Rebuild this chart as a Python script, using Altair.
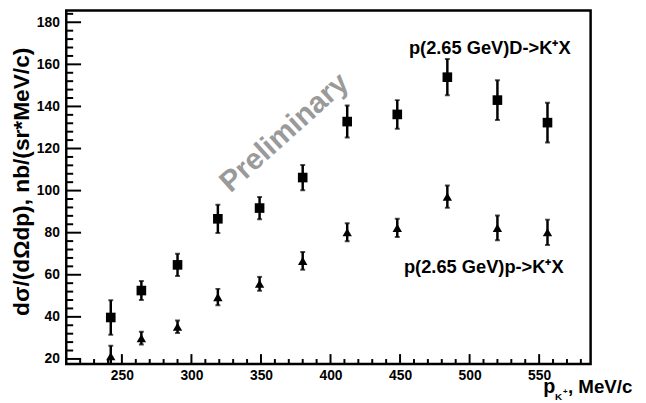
import altair as alt
import pandas as pd

# ---- data ----
p_kaon = [242, 264, 290, 319, 349, 380, 412, 448, 484, 520, 556]
sigma_D = [39.7, 52.5, 64.7, 86.6, 91.7, 106.2, 132.8, 136.2, 153.9, 143.0, 132.3]
err_D = [8.2, 4.5, 5.3, 6.7, 5.3, 6.0, 7.6, 6.8, 8.6, 9.4, 9.4]
sigma_p = [21.3, 29.9, 35.3, 49.4, 55.7, 66.6, 80.2, 82.3, 97.1, 82.3, 80.2]
err_p = [5.0, 3.0, 3.0, 3.9, 3.3, 4.2, 4.3, 4.3, 5.3, 5.9, 6.0]

x_major = [250, 300, 350, 400, 450, 500, 550]
x_minor = [v for v in range(220, 590, 10) if v not in x_major]
y_major = [20, 40, 60, 80, 100, 120, 140, 160, 180]
y_minor = [v for v in range(20, 186, 4) if v not in y_major]

label_D = "p(2.65 GeV)D->K\u207aX"
label_p = "p(2.65 GeV)p->K\u207aX"
watermark = "Preliminary"
y_title = "d\u03c3/(d\u03a9dp), nb/(sr*MeV/c)"

FONT = "Liberation Sans"
W, H = 531, 358

xs = alt.Scale(domain=[210, 587], nice=False, zero=False)
ys = alt.Scale(domain=[17.6, 185.6], nice=False, zero=False)

rows = []
for x, y, e in zip(p_kaon, sigma_D, err_D):
    rows.append({"p": x, "v": y, "lo": y - e, "hi": y + e, "s": "D"})
for x, y, e in zip(p_kaon, sigma_p, err_p):
    rows.append({"p": x, "v": y, "lo": y - e, "hi": y + e, "s": "p"})
df = pd.DataFrame(rows)
dD = df[df.s == "D"]
dp = df[df.s == "p"]

xaxis = alt.Axis(values=x_major, tickSize=0, domain=False, grid=False,
                 labelFont=FONT, labelFontWeight="bold", labelFontSize=14,
                 labelColor="black", labelPadding=5, title="")
yaxis = alt.Axis(values=y_major, tickSize=0, domain=False, grid=False,
                 labelFont=FONT, labelFontWeight="bold", labelFontSize=14,
                 labelColor="black", labelPadding=7, title=y_title,
                 titleFont=FONT, titleFontWeight="bold", titleFontSize=23,
                 titleColor="black", titlePadding=3, titleY=173)

X = lambda f: alt.X(f, scale=xs, axis=xaxis)
Y = lambda f: alt.Y(f, scale=ys, axis=yaxis)

ytick_major = alt.Chart(pd.DataFrame({"t": y_major})).mark_rule(color="black", strokeWidth=2).encode(
    y=Y("t:Q"), x=alt.value(0), x2=alt.value(15))
ytick_minor = alt.Chart(pd.DataFrame({"t": y_minor})).mark_rule(color="black", strokeWidth=2).encode(
    y=Y("t:Q"), x=alt.value(0), x2=alt.value(7))
xtick_major = alt.Chart(pd.DataFrame({"t": x_major})).mark_rule(color="black", strokeWidth=2).encode(
    x=X("t:Q"), y=alt.value(H), y2=alt.value(H - 10))
xtick_minor = alt.Chart(pd.DataFrame({"t": x_minor})).mark_rule(color="black", strokeWidth=2).encode(
    x=X("t:Q"), y=alt.value(H), y2=alt.value(H - 5))

def errbars(d):
    src = alt.Chart(d)
    bar = src.mark_rule(color="black", strokeWidth=2.5, clip=True).encode(
        x=X("p:Q"), y=Y("lo:Q"), y2="hi:Q")
    cap_lo = src.mark_tick(color="black", orient="horizontal", size=5, thickness=2, clip=True).encode(
        x=X("p:Q"), y=Y("lo:Q"))
    cap_hi = src.mark_tick(color="black", orient="horizontal", size=5, thickness=2, clip=True).encode(
        x=X("p:Q"), y=Y("hi:Q"))
    return [bar, cap_lo, cap_hi]

pts_D = alt.Chart(dD).mark_point(shape="square", filled=True, size=95, color="black", opacity=1).encode(
    x=X("p:Q"), y=Y("v:Q"))
pts_p = alt.Chart(dp).mark_point(shape="triangle-up", filled=True, size=90, color="black", opacity=1, clip=True).encode(
    x=X("p:Q"), y=Y("v:Q"))

def txt(s, x, y, size, align="left", baseline="alphabetic", color="black", angle=0):
    kw = dict(text=s, font=FONT, fontWeight="bold", fontSize=size, align=align,
              baseline=baseline, color=color)
    if angle:
        kw["angle"] = angle
    return alt.Chart(pd.DataFrame({"a": [0]})).mark_text(**kw).encode(
        x=alt.value(x), y=alt.value(y))

wm = txt(watermark, 221, 124, 30, align="center", baseline="middle", color="#9a9a9a", angle=318)
ann = [
    txt(label_D, 347, 44, 18.5),
    txt(label_p, 342, 266, 18.5),
    txt("p", 483, 387, 20),
    txt("K", 495, 394, 10),
    txt("+", 503, 388, 8),
    txt(", MeV/c", 508, 387, 19),
]

chart = alt.layer(
    ytick_major, ytick_minor, xtick_major, xtick_minor, wm,
    *errbars(dD), *errbars(dp), pts_D, pts_p, *ann,
).properties(
    width=W, height=H,
    autosize=alt.AutoSizeParams(type="none"),
    padding={"left": 59, "top": 0, "right": 48, "bottom": 37},
).configure_view(
    stroke="black", strokeWidth=2.5
)

chart.save("out.html", embed_options={"renderer": "svg", "actions": False})
